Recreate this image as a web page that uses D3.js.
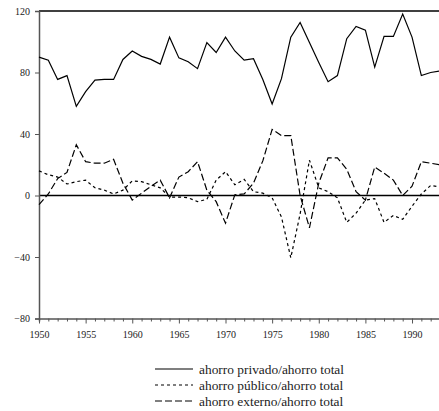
<!DOCTYPE html>
<html>
<head>
  <meta charset="utf-8">
  <script src="https://cdn.jsdelivr.net/npm/d3@7/dist/d3.min.js"></script>
  <style>
    body { margin: 0; background: #fff; }
  </style>
</head>
<body>
<svg id="chart" width="439" height="411"></svg>
<script>
  // years 1950-1993
  var years = d3.range(1950, 1994);

  var privado = [90, 88, 75.5, 78, 58, 67.5, 75, 75.5, 75.5, 88.5,
                 94, 90.5, 88.5, 85.5, 103, 89.5, 87, 82.5, 99.5, 93,
                 103, 94, 88, 89, 75.5, 59.5, 76, 103, 112.5, 99.5,
                 86.5, 74, 78, 102, 110, 107.5, 83.5, 103.5, 103.5, 118,
                 103, 78, 80, 81];

  var publico = [16, 13.5, 12, 7.5, 9, 10, 5, 3.5, 1, 3.5,
                 9.5, 9, 7, 5, -1, -1, -1.5, -4, -2.5, 10,
                 15.5, 7, 10.5, 2.5, 1.5, -1.5, -14, -40.5, -12, 23,
                 5, 2.5, -1.5, -17.5, -11.5, -3, -2, -17.5, -13, -15.5,
                 -7, 1, 6.5, 5.5];

  var externo = [-6, 1, 11, 15, 33, 22, 21, 21, 23.5, 8,
                 -3, 1.5, 6, 10, -1.5, 12, 15.5, 22, 3.5, -4,
                 -18, 0.5, 1, 8, 22.5, 43, 39, 39, 0, -21,
                 8, 24.5, 24.5, 17, 2.5, -3, 18.5, 14.5, 10, 0,
                 6, 22, 21, 20];

  var yTicks = [-80, -40, 0, 40, 80, 120];
  var xMajor = [1950, 1955, 1960, 1965, 1970, 1975, 1980, 1985, 1990];

  var seriesNames = ["ahorro privado/ahorro total",
                     "ahorro público/ahorro total",
                     "ahorro externo/ahorro total"];
  var dashes = [null, "3,3", "7,3"];

  var serif = "Liberation Serif";

  var svg = d3.select("#chart");

  var x = d3.scaleLinear().domain([1950, 1993]).range([39, 440]);
  var y = d3.scaleLinear().domain([-80, 120]).range([318.5, 11]);

  // top frame + zero line
  svg.append("line").attr("x1", x(1950)).attr("x2", x(1993))
    .attr("y1", y(120)).attr("y2", y(120))
    .attr("stroke", "#000").attr("stroke-width", 1.5);
  svg.append("line").attr("x1", x(1950)).attr("x2", x(1993))
    .attr("y1", y(0)).attr("y2", y(0))
    .attr("stroke", "#000").attr("stroke-width", 1.5);

  // y axis
  var yAxis = svg.append("g").attr("transform", "translate(" + x(1950) + ",0)")
    .call(d3.axisLeft(y).tickValues(yTicks).tickSize(4).tickPadding(5).tickFormat(d3.format("d")));
  yAxis.attr("font-family", serif).attr("font-size", 10);
  yAxis.select(".domain").attr("stroke", "#555").attr("stroke-width", 1.5);
  yAxis.selectAll(".tick line").attr("stroke", "#555");
  yAxis.selectAll("text").style("font-family", serif).style("font-size", "10px").attr("fill", "#222");

  // x axis: yearly minor ticks, labelled majors
  var xAxisMinor = svg.append("g").attr("transform", "translate(0," + y(-80) + ")")
    .call(d3.axisBottom(x).tickValues(years.filter(function(d) { return d % 5 != 0; }))
      .tickSize(3).tickFormat(""));
  xAxisMinor.select(".domain").attr("stroke", "#555").attr("stroke-width", 1.5);
  xAxisMinor.selectAll(".tick line").attr("stroke", "#555");

  var xAxis = svg.append("g").attr("transform", "translate(0," + y(-80) + ")")
    .call(d3.axisBottom(x).tickValues(xMajor).tickSize(5).tickPadding(7).tickFormat(d3.format("d")));
  xAxis.attr("font-family", serif).attr("font-size", 10);
  xAxis.select(".domain").remove();
  xAxis.selectAll(".tick line").attr("stroke", "#555");
  xAxis.selectAll("text").style("font-family", serif).style("font-size", "10px").attr("fill", "#222");

  // series
  var line = d3.line()
    .x(function(d, i) { return x(years[i]); })
    .y(function(d) { return y(d); });

  [privado, publico, externo].forEach(function(s, k) {
    svg.append("path").datum(s)
      .attr("d", line)
      .attr("fill", "none")
      .attr("stroke", "#000")
      .attr("stroke-width", 1.2)
      .attr("stroke-dasharray", dashes[k]);
  });

  // legend
  var leg = svg.append("g");
  seriesNames.forEach(function(name, k) {
    var ly = 369 + k * 16;
    leg.append("line").attr("x1", 155).attr("x2", 193)
      .attr("y1", ly).attr("y2", ly)
      .attr("stroke", "#000").attr("stroke-width", 1.2)
      .attr("stroke-dasharray", dashes[k]);
    leg.append("text").attr("x", 199).attr("y", ly).attr("dy", "0.35em")
      .style("font-family", serif).style("font-size", "13.4px")
      .attr("fill", "#222").text(name);
  });
</script>
</body>
</html>
